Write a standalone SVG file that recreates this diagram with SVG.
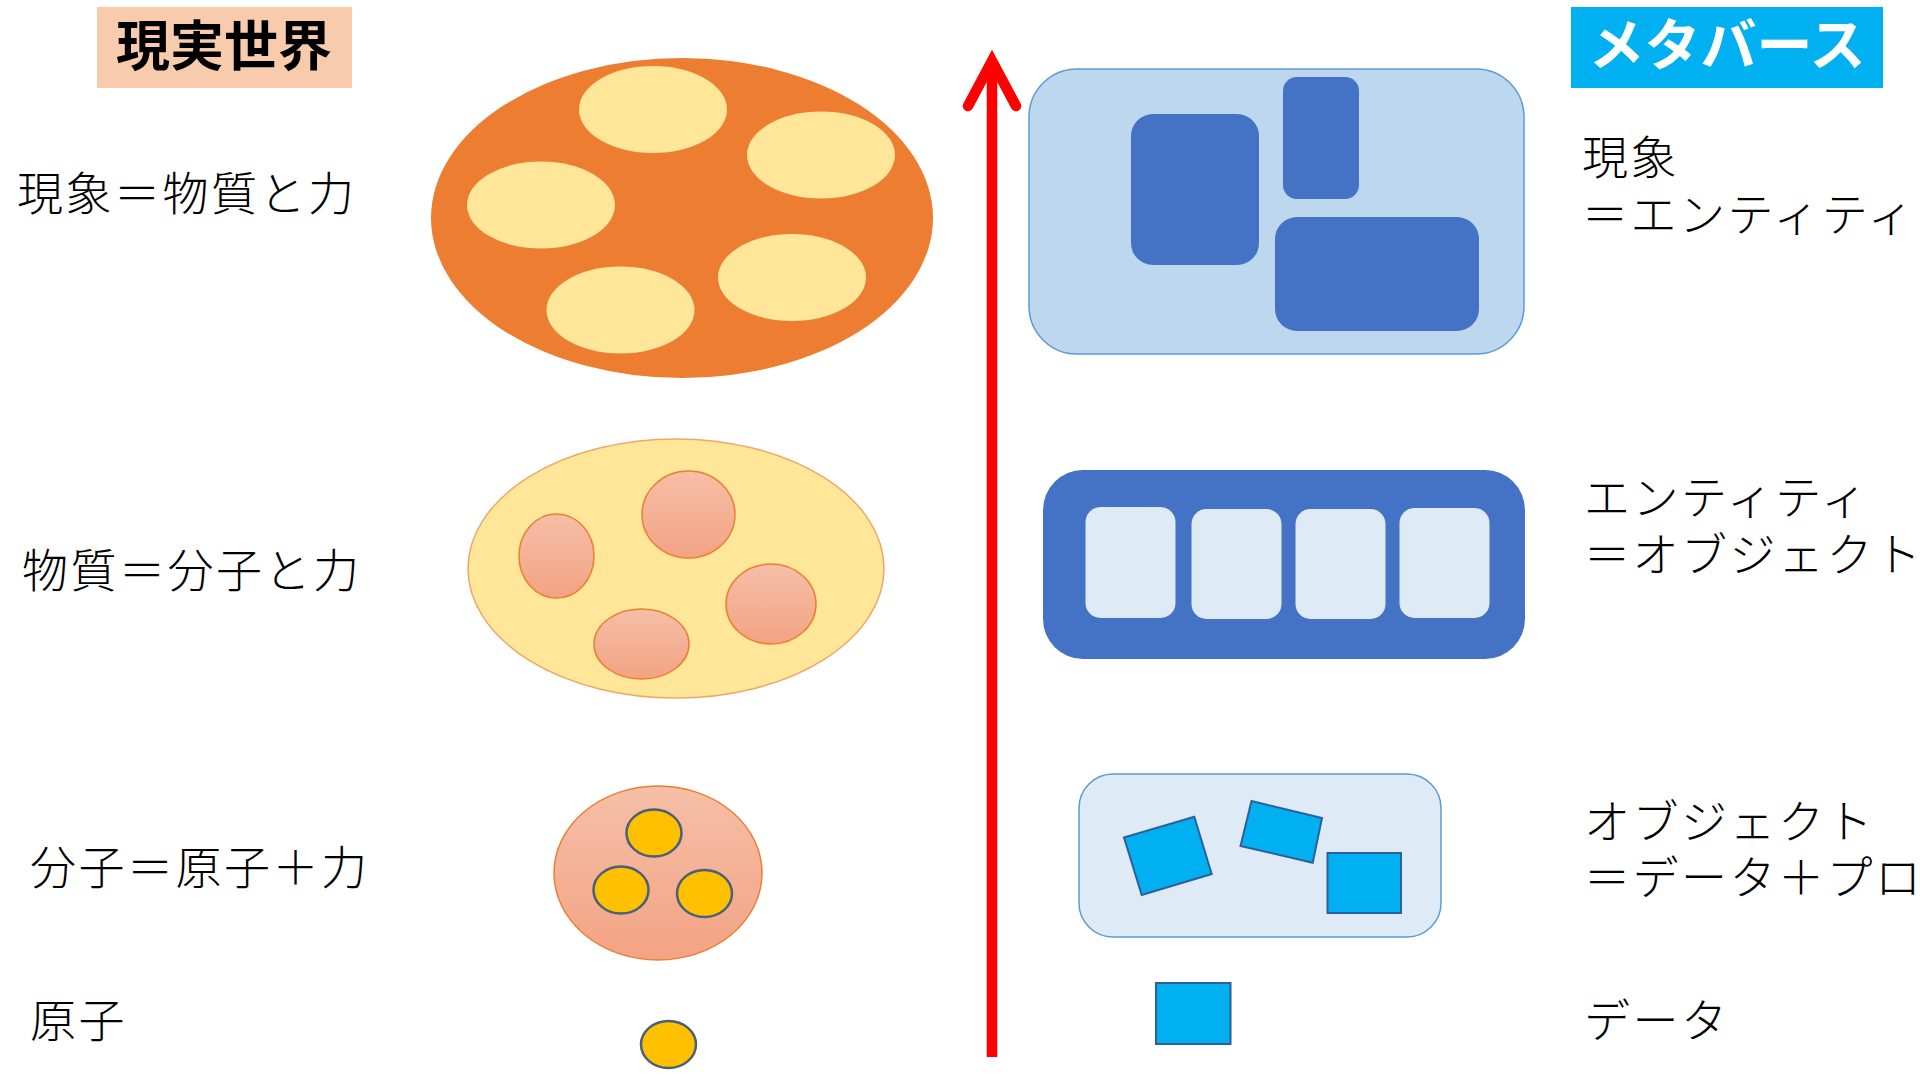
<svg xmlns="http://www.w3.org/2000/svg" width="1920" height="1080" viewBox="0 0 1920 1080">
<defs>
<style>
.lbl{font-family:"Noto Sans CJK JP","Noto Sans CJK SC",sans-serif;font-size:46px;font-weight:300;fill:#000;letter-spacing:2.5px}
.ttl{font-family:"Noto Sans CJK JP","Noto Sans CJK SC",sans-serif;font-weight:700;text-anchor:middle}
.pale{fill:#FFE699}
.mol{fill:url(#salmon);stroke:#ED7D31;stroke-width:1.5}
.atom{fill:#FFC000;stroke:#4A6078;stroke-width:2.5}
.dk{fill:#4472C4}
.lt{fill:#DEEBF7}
.sq{fill:#00B0F0;stroke:#2F5F9A;stroke-width:2}
</style>
<linearGradient id="salmon" x1="0" y1="0" x2="0" y2="1">
<stop offset="0" stop-color="#F5BFA7"/>
<stop offset="1" stop-color="#F3A383"/>
</linearGradient>
</defs>
<rect width="1920" height="1080" fill="#FFFFFF"/>

<g id="title-real">
<rect x="97" y="7" width="255" height="81" fill="#F8CBAD"/>
<text class="ttl" x="224" y="66" font-size="54" fill="#000">現実世界</text>
</g>
<g id="title-meta">
<rect x="1571" y="7" width="312" height="81" fill="#00B0F0"/>
<text class="ttl" x="1727" y="65" font-size="56" fill="#FFFFFF">メタバース</text>
</g>

<g id="real-phenomenon">
<ellipse cx="682" cy="218" rx="251" ry="160" fill="#ED7D31"/>
<ellipse class="pale" cx="653" cy="109.5" rx="74" ry="43.5"/>
<ellipse class="pale" cx="821" cy="155" rx="74" ry="43.5"/>
<ellipse class="pale" cx="541" cy="205" rx="74" ry="43.5"/>
<ellipse class="pale" cx="792" cy="277.5" rx="74" ry="43.5"/>
<ellipse class="pale" cx="620.5" cy="310" rx="74" ry="43.5"/>
</g>
<g id="real-matter">
<ellipse cx="676" cy="568.5" rx="208" ry="129.5" fill="#FFE699" stroke="#EDA868" stroke-width="1.5"/>
<ellipse class="mol" cx="556.5" cy="556" rx="37.5" ry="42"/>
<ellipse class="mol" cx="688.5" cy="514.5" rx="46.5" ry="43.5"/>
<ellipse class="mol" cx="771" cy="604" rx="45" ry="40"/>
<ellipse class="mol" cx="641.5" cy="644" rx="47.5" ry="35"/>
</g>
<g id="real-molecule">
<ellipse class="mol" cx="658" cy="873" rx="104" ry="87"/>
<ellipse class="atom" cx="654" cy="833" rx="27.5" ry="23.5"/>
<ellipse class="atom" cx="621" cy="890" rx="27.5" ry="23.5"/>
<ellipse class="atom" cx="704.5" cy="893.5" rx="27.5" ry="23.5"/>
</g>
<g id="real-atom">
<ellipse class="atom" cx="668.5" cy="1044.5" rx="27.5" ry="23.5"/>
</g>

<g id="connectors">
<line x1="992" y1="1057" x2="992" y2="64" stroke="#FF0000" stroke-width="10.5"/>
<path d="M968,106 L992,61 L1016,106" fill="none" stroke="#FF0000" stroke-width="10.5" stroke-linecap="round" stroke-linejoin="miter"/>
</g>

<g id="meta-phenomenon">
<rect x="1029" y="69" width="495" height="285" rx="48" ry="48" fill="#BDD7EE" stroke="#5B9BD5" stroke-width="1.5"/>
<rect class="dk" x="1131" y="114" width="128" height="151" rx="22" ry="22"/>
<rect class="dk" x="1283" y="77" width="76" height="122" rx="14" ry="14"/>
<rect class="dk" x="1275" y="217" width="204" height="114" rx="22" ry="22"/>
</g>
<g id="meta-entity">
<rect class="dk" x="1043" y="470" width="482" height="189" rx="40" ry="40"/>
<rect class="lt" x="1085.5" y="507" width="90" height="111" rx="15" ry="15"/>
<rect class="lt" x="1191.5" y="509" width="90" height="110" rx="15" ry="15"/>
<rect class="lt" x="1295.5" y="509" width="90" height="110" rx="15" ry="15"/>
<rect class="lt" x="1399.5" y="508" width="90" height="110" rx="15" ry="15"/>
</g>
<g id="meta-object">
<rect x="1079" y="774" width="362" height="163" rx="34" ry="34" fill="#DEEBF7" stroke="#5B9BD5" stroke-width="1.5"/>
<polygon class="sq" points="1124,837.5 1194.3,816.7 1211.7,874 1141.7,895"/>
<polygon class="sq" points="1251.5,801 1322,818 1312.7,862.7 1240.5,846"/>
<rect class="sq" x="1327.5" y="853" width="73.5" height="60"/>
</g>
<g id="meta-data">
<rect class="sq" x="1156" y="983" width="74.5" height="61"/>
</g>

<g id="labels-real">
<text class="lbl" x="17" y="210">現象＝物質と力</text>
<text class="lbl" x="22" y="587">物質＝分子と力</text>
<text class="lbl" x="30" y="884">分子＝原子＋力</text>
<text class="lbl" x="30" y="1037">原子</text>
</g>
<g id="labels-meta">
<text class="lbl" x="1582" y="174">現象<tspan x="1582" y="231">＝エンティティ</tspan></text>
<text class="lbl" x="1584" y="514">エンティティ<tspan x="1584" y="571">＝オブジェクト</tspan></text>
<text class="lbl" x="1584" y="838">オブジェクト<tspan x="1584" y="894">＝データ＋プロ</tspan></text>
<text class="lbl" x="1584" y="1037">データ</text>
</g>
</svg>
